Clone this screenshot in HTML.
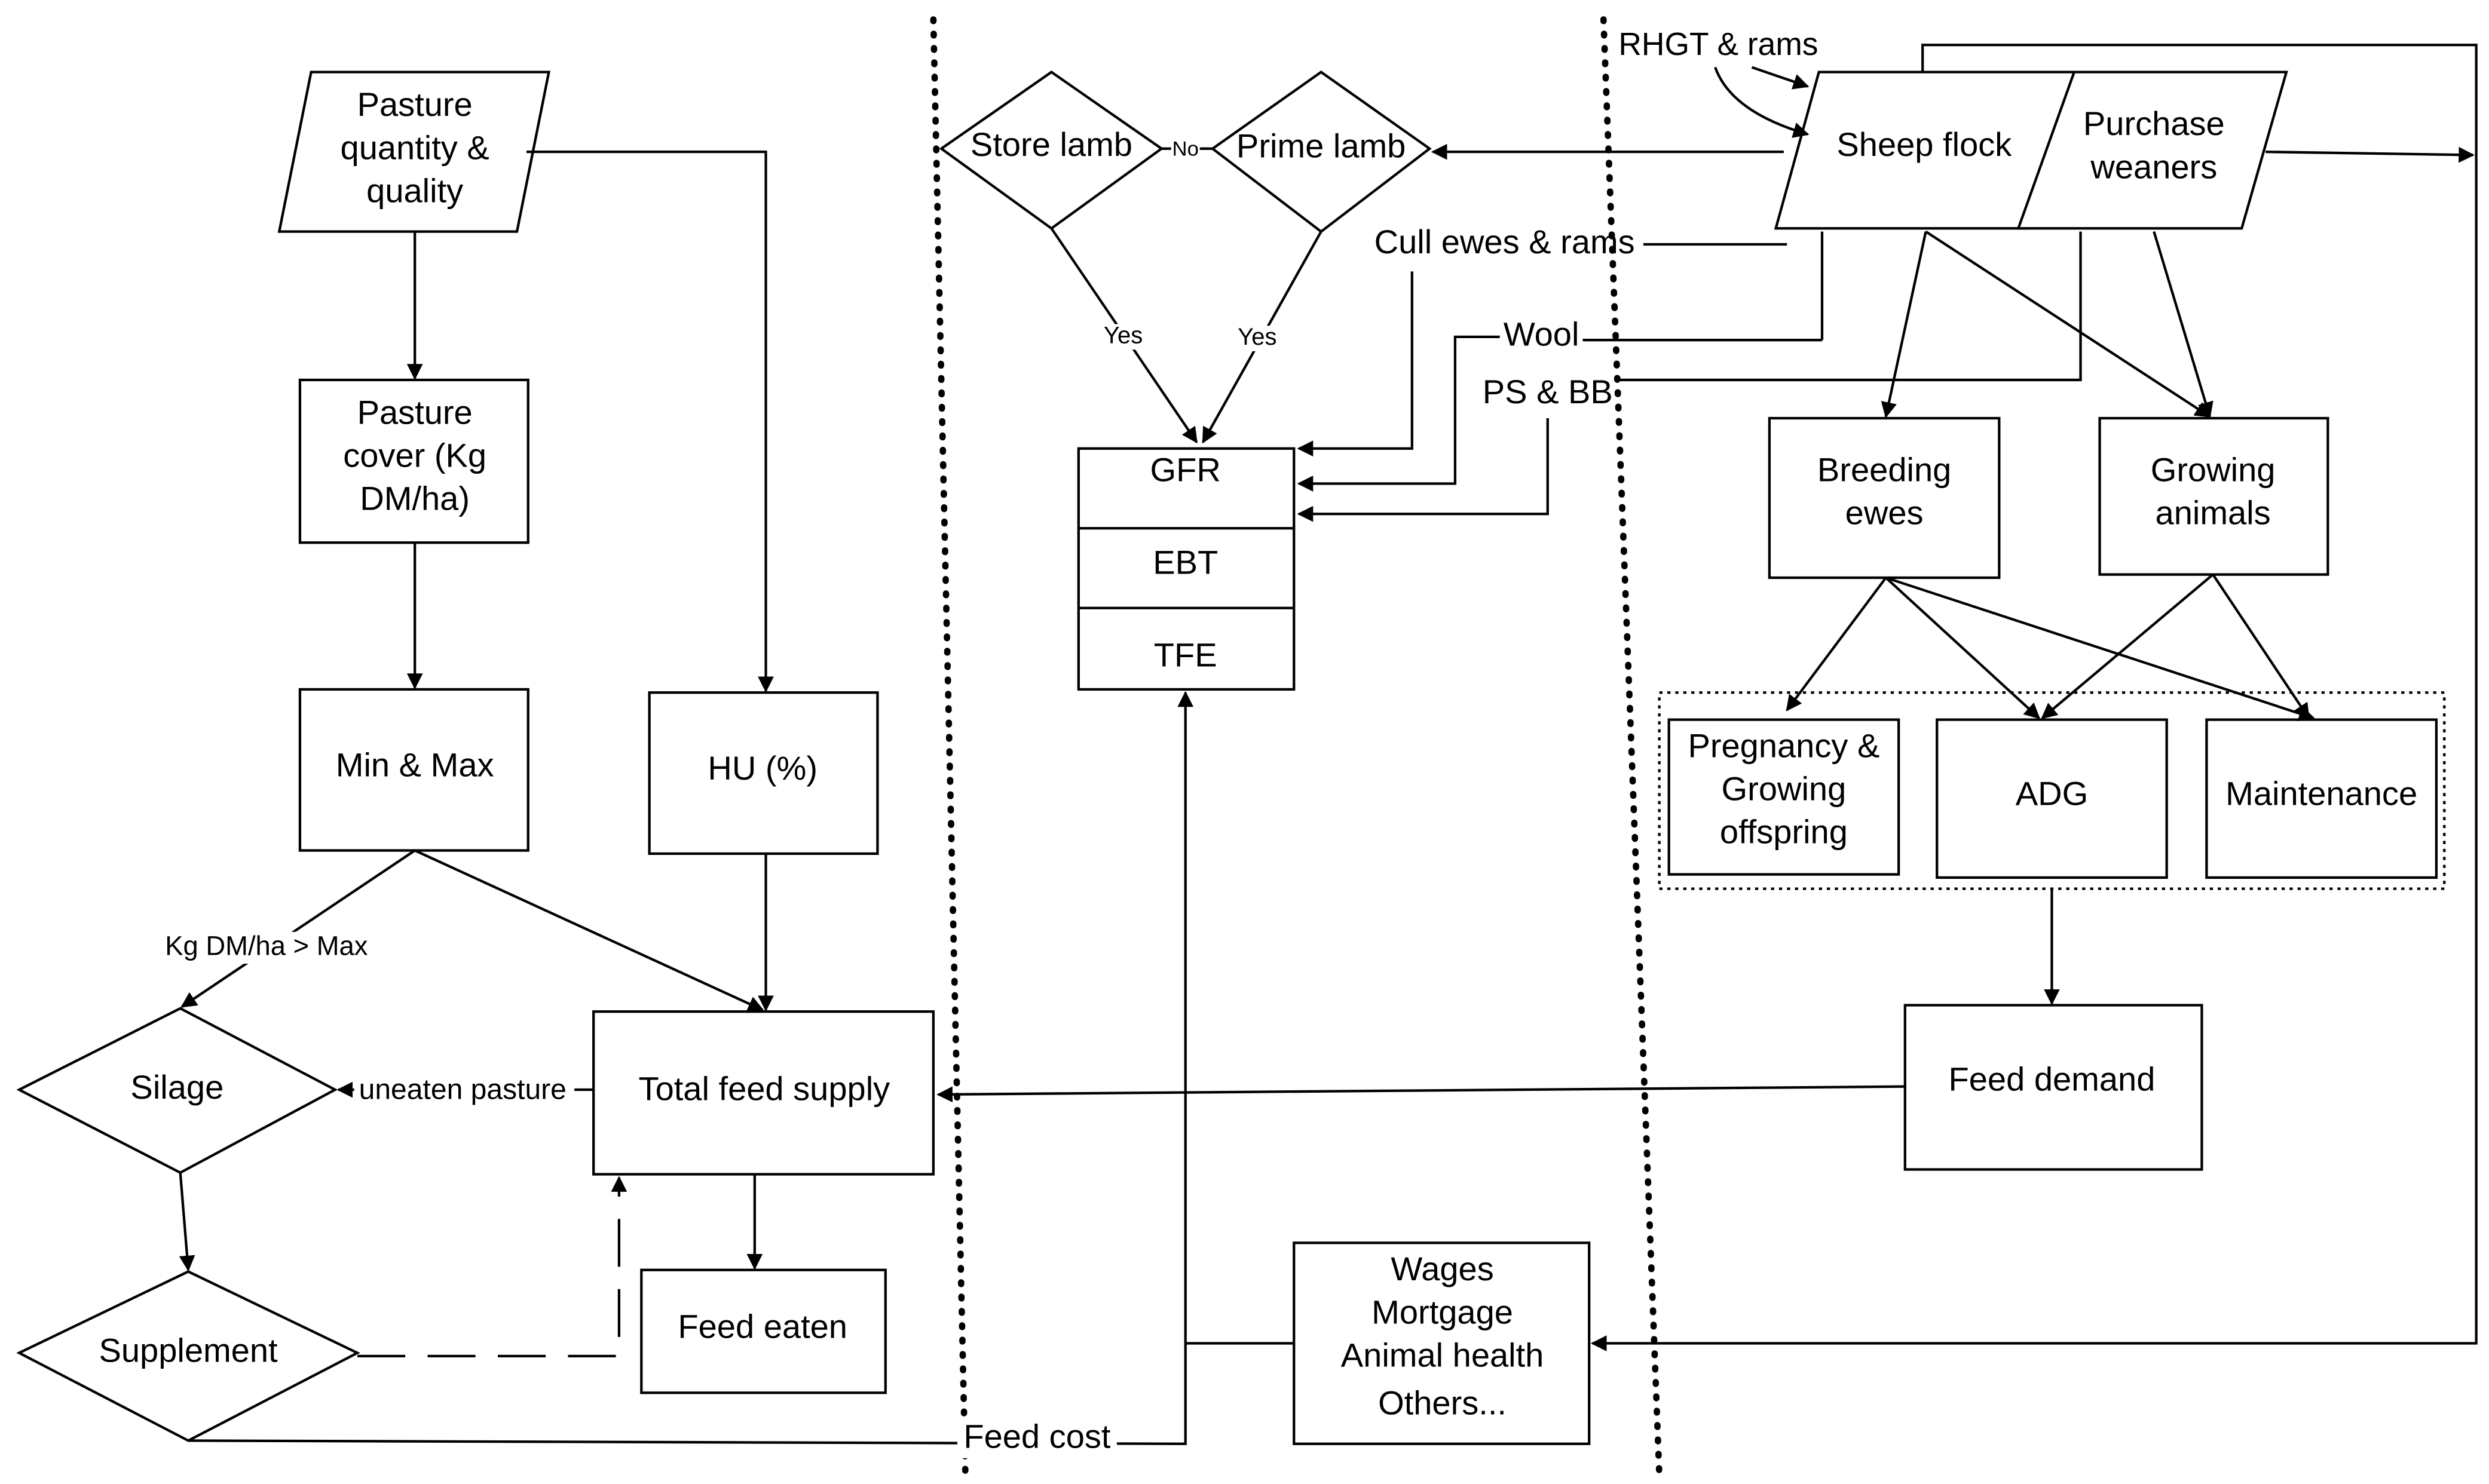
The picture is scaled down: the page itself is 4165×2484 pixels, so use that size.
<!DOCTYPE html>
<html><head><meta charset="utf-8"><style>
html,body{margin:0;padding:0;background:#fff;}
svg{display:block;}
text{font-family:"Liberation Sans",sans-serif;font-size:21px;fill:#000;text-anchor:middle;dominant-baseline:middle;}
.s{font-size:15px;}
</style></head><body>
<svg width="4165" height="2484" viewBox="0 0 1560 930" xmlns="http://www.w3.org/2000/svg">
<defs><marker id="a" markerWidth="10" markerHeight="10" refX="9" refY="5" orient="auto" markerUnits="userSpaceOnUse"><path d="M0,0 L10,5 L0,10 z" fill="#000"/></marker></defs>
<g fill="none" stroke="#000" stroke-width="1.6">
<!-- left column -->
<polygon points="195,45 344,45 324,145 175,145" fill="#fff"/>
<line x1="260" y1="145" x2="260" y2="237" marker-end="url(#a)"/>
<rect x="188" y="238" width="143" height="102"/>
<line x1="260" y1="340" x2="260" y2="431" marker-end="url(#a)"/>
<rect x="188" y="432" width="143" height="101"/>
<polyline points="330,95 480,95 480,433" marker-end="url(#a)"/>
<rect x="407" y="434" width="143" height="101"/>
<line x1="480" y1="535" x2="480" y2="633" marker-end="url(#a)"/>
<rect x="372" y="634" width="213" height="102"/>
<line x1="260" y1="533" x2="478" y2="633" marker-end="url(#a)"/>
<line x1="260" y1="533" x2="114" y2="631" marker-end="url(#a)"/>
<polygon points="12,683 113,632 210,683 113,735" fill="#fff"/>
<line x1="372" y1="683" x2="212" y2="683" marker-end="url(#a)"/>
<line x1="113" y1="735" x2="118" y2="796" marker-end="url(#a)"/>
<polygon points="12,848 118,797 224,848 118,903" fill="#fff"/>
<polyline points="224,850 388,850 388,738" stroke-dasharray="30,14" marker-end="url(#a)"/>
<line x1="473" y1="736" x2="473" y2="795" marker-end="url(#a)"/>
<rect x="402" y="796" width="153" height="77"/>
<polyline points="118,903 743,905 743,434" marker-end="url(#a)"/>
<!-- dotted dividers -->
<line x1="585" y1="12" x2="605" y2="922" stroke-width="4" stroke-dasharray="1,8" stroke-linecap="round"/>
<line x1="1005" y1="12" x2="1040" y2="925" stroke-width="4" stroke-dasharray="1,8" stroke-linecap="round"/>
<!-- middle -->
<polygon points="590,93 659,45 728,93 659,143" fill="#fff"/>
<polygon points="760,93 828,45 896,93 828,145" fill="#fff"/>
<line x1="728" y1="93" x2="760" y2="93"/>
<line x1="659" y1="143" x2="750" y2="277" marker-end="url(#a)"/>
<line x1="828" y1="145" x2="754" y2="277" marker-end="url(#a)"/>
<rect x="676" y="281" width="135" height="151"/>
<line x1="676" y1="331" x2="811" y2="331"/>
<line x1="676" y1="381" x2="811" y2="381"/>
<line x1="1030" y1="153" x2="1120" y2="153"/>
<polyline points="885,170 885,281 814,281" marker-end="url(#a)"/>
<polyline points="940,211 912,211 912,303 814,303" marker-end="url(#a)"/>
<line x1="992" y1="213" x2="1142" y2="213"/><line x1="1142" y1="213" x2="1142" y2="145"/>
<polyline points="970,262 970,322 814,322" marker-end="url(#a)"/>
<polyline points="1015,238 1304,238 1304,145"/>
<line x1="1118" y1="95" x2="898" y2="95" marker-end="url(#a)"/>
<!-- right -->
<polygon points="1140,45 1300,45 1270,143 1113,143" fill="#fff"/>
<polygon points="1300,45 1433,45 1405,143 1265,143" fill="#fff"/>
<path d="M1075,42 Q1085,70 1133,84" marker-end="url(#a)"/>
<line x1="1098" y1="42" x2="1133" y2="54" marker-end="url(#a)"/>
<polyline points="1205,45 1205,28 1552,28 1552,842 998,842" marker-end="url(#a)"/>
<line x1="1420" y1="95" x2="1550" y2="97" marker-end="url(#a)"/>
<line x1="1207" y1="145" x2="1182" y2="261" marker-end="url(#a)"/>
<line x1="1207" y1="145" x2="1385" y2="261" marker-end="url(#a)"/>
<line x1="1350" y1="145" x2="1385" y2="261" marker-end="url(#a)"/>
<rect x="1109" y="262" width="144" height="100"/>
<rect x="1316" y="262" width="143" height="98"/>
<line x1="1182" y1="362" x2="1120" y2="445" marker-end="url(#a)"/>
<line x1="1182" y1="362" x2="1278" y2="450" marker-end="url(#a)"/>
<line x1="1182" y1="362" x2="1450" y2="450" marker-end="url(#a)"/>
<line x1="1387" y1="360" x2="1280" y2="450" marker-end="url(#a)"/>
<line x1="1387" y1="360" x2="1447" y2="450" marker-end="url(#a)"/>
<rect x="1040" y="434" width="492" height="123" stroke-dasharray="2,3"/>
<rect x="1046" y="451" width="144" height="97"/>
<rect x="1214" y="451" width="144" height="99"/>
<rect x="1383" y="451" width="144" height="99"/>
<line x1="1286" y1="557" x2="1286" y2="629" marker-end="url(#a)"/>
<rect x="1194" y="630" width="186" height="103"/>
<line x1="1194" y1="681" x2="588" y2="686" marker-end="url(#a)"/>
<rect x="811" y="779" width="185" height="126"/>
<line x1="811" y1="842" x2="743" y2="842"/>
</g>
<text x="260" y="67">Pasture</text><text x="260" y="94">quantity &amp;</text><text x="260" y="121">quality</text>
<text x="260" y="260">Pasture</text><text x="260" y="287">cover (Kg</text><text x="260" y="314">DM/ha)</text>
<text x="260" y="481">Min &amp; Max</text>
<text x="478" y="483">HU (%)</text>
<text x="479" y="684">Total feed supply</text>
<rect x="95" y="584" width="145" height="20" fill="#fff"/><text class="s" x="167" y="594" style="font-size:17px">Kg DM/ha &gt; Max</text>
<text x="111" y="683">Silage</text>
<rect x="222" y="673" width="138" height="22" fill="#fff"/><text x="290" y="684" style="font-size:18px">uneaten pasture</text>
<text x="118" y="848">Supplement</text>
<text x="478" y="833">Feed eaten</text>
<rect x="600" y="890" width="100" height="24" fill="#fff"/><text x="650" y="902">Feed cost</text>
<text x="659" y="92">Store lamb</text><text x="828" y="93">Prime lamb</text>
<rect x="734" y="86" width="18" height="14" fill="#fff"/><text class="s" x="743" y="94" style="font-size:13px">No</text>
<rect x="690" y="203" width="30" height="16" fill="#fff"/><text class="s" x="704" y="211">Yes</text>
<rect x="774" y="204" width="30" height="16" fill="#fff"/><text class="s" x="788" y="212">Yes</text>
<text x="743" y="296">GFR</text><text x="743" y="354">EBT</text><text x="743" y="412">TFE</text>
<text x="943" y="153">Cull ewes &amp; rams</text>
<text x="966" y="211">Wool</text>
<text x="970" y="247">PS &amp; BB</text>
<text x="1077" y="29" style="font-size:20px">RHGT &amp; rams</text>
<text x="1206" y="92">Sheep  flock</text>
<text x="1350" y="79">Purchase</text><text x="1350" y="106">weaners</text>
<text x="1181" y="296">Breeding</text><text x="1181" y="323">ewes</text>
<text x="1387" y="296">Growing</text><text x="1387" y="323">animals</text>
<text x="1118" y="469">Pregnancy &amp;</text><text x="1118" y="496">Growing</text><text x="1118" y="523">offspring</text>
<text x="1286" y="499">ADG</text>
<text x="1455" y="499">Maintenance</text>
<text x="1286" y="678">Feed demand</text>
<text x="904" y="797">Wages</text><text x="904" y="824">Mortgage</text><text x="904" y="851">Animal health</text><text x="904" y="881">Others...</text>
</svg>
</body></html>
